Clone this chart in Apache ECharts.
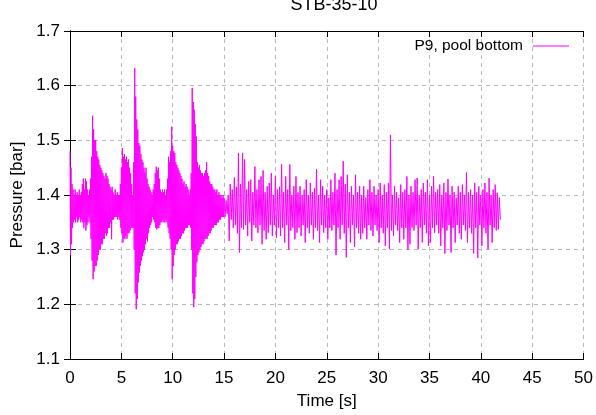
<!DOCTYPE html>
<html>
<head>
<meta charset="utf-8">
<script src="https://cdn.jsdelivr.net/npm/echarts@6/dist/echarts.min.js"></script>
<style>
html,body{margin:0;padding:0;background:#fff;}
#chart{width:596px;height:415px;}
</style>
</head>
<body>
<div id="chart"></div>
<script>
// ---- data ----
const chartTitle = 'STB-35-10';
const seriesName = 'P9, pool bottom';
const xTicks = [0, 5, 10, 15, 20, 25, 30, 35, 40, 45, 50];
const yTicks = [1.1, 1.2, 1.3, 1.4, 1.5, 1.6, 1.7];

// segment A: 0 s .. 15 s, one oscillation every 0.1 s (upper / lower swing, bar)
const startA = 0.0, stepA = 0.1;
const highA = [
1.48,1.45,1.42,1.41,1.40,1.41,1.40,1.405,1.40,1.41,
1.40,1.405,1.42,1.43,1.41,1.43,1.425,1.41,1.40,1.41,
1.43,1.47,1.545,1.52,1.50,1.50,1.48,1.47,1.465,1.455,
1.45,1.445,1.44,1.435,1.43,1.44,1.435,1.43,1.42,1.415,
1.41,1.415,1.405,1.40,1.41,1.40,1.405,1.40,1.40,1.42,
1.45,1.486,1.47,1.475,1.465,1.47,1.46,1.465,1.45,1.44,
1.42,1.40,1.46,1.632,1.58,1.538,1.52,1.495,1.49,1.475,
1.465,1.46,1.45,1.441,1.45,1.43,1.42,1.415,1.41,1.405,
1.40,1.41,1.42,1.44,1.452,1.445,1.45,1.43,1.41,1.405,
1.41,1.405,1.41,1.40,1.41,1.43,1.47,1.46,1.48,1.525,
1.49,1.48,1.477,1.46,1.455,1.45,1.445,1.44,1.435,1.43,
1.42,1.425,1.415,1.42,1.415,1.41,1.40,1.41,1.44,1.596,
1.57,1.556,1.53,1.507,1.46,1.45,1.455,1.445,1.44,1.44,
1.435,1.44,1.445,1.46,1.44,1.435,1.425,1.42,1.42,1.415,
1.41,1.41,1.405,1.41,1.40,1.405,1.40,1.40,1.395,1.40
];
const lowA = [
1.29,1.31,1.34,1.35,1.355,1.35,1.36,1.35,1.355,1.36,
1.35,1.355,1.35,1.34,1.35,1.335,1.345,1.35,1.36,1.35,
1.32,1.28,1.246,1.26,1.27,1.27,1.28,1.29,1.30,1.30,
1.31,1.31,1.32,1.32,1.33,1.325,1.33,1.34,1.34,1.35,
1.319,1.355,1.355,1.36,1.36,1.36,1.355,1.36,1.355,1.34,
1.33,1.313,1.32,1.32,1.325,1.32,1.33,1.33,1.335,1.34,
1.34,1.34,1.30,1.22,1.191,1.21,1.24,1.258,1.27,1.28,
1.288,1.295,1.30,1.31,1.32,1.315,1.33,1.34,1.345,1.35,
1.36,1.355,1.35,1.34,1.337,1.34,1.34,1.345,1.35,1.35,
1.355,1.35,1.35,1.355,1.35,1.34,1.33,1.32,1.30,1.246,
1.27,1.29,1.30,1.31,1.31,1.315,1.32,1.32,1.325,1.33,
1.33,1.335,1.34,1.34,1.34,1.345,1.345,1.34,1.30,1.22,
1.195,1.21,1.25,1.277,1.29,1.295,1.30,1.305,1.31,1.31,
1.315,1.32,1.32,1.32,1.325,1.33,1.33,1.335,1.34,1.34,
1.345,1.345,1.345,1.35,1.35,1.355,1.355,1.36,1.36,1.36
];

// segment B: 15 s .. 41.9 s, one oscillation every 0.2 s (upper / lower swing, bar)
const startB = 15.0, stepB = 0.2;
const highB = [
1.395,1.390,1.400,1.420,1.410,1.432,1.415,1.477,1.420,1.477,
1.465,1.410,1.425,1.428,1.405,1.452,1.410,1.428,1.434,1.445,
1.405,1.416,1.422,1.440,1.400,1.434,1.410,1.415,1.456,1.405,
1.434,1.410,1.456,1.400,1.416,1.434,1.405,1.416,1.400,1.410,
1.428,1.400,1.422,1.405,1.412,1.447,1.400,1.428,1.416,1.400,
1.410,1.395,1.428,1.405,1.440,1.410,1.428,1.434,1.462,1.420,
1.437,1.405,1.416,1.400,1.437,1.405,1.416,1.400,1.416,1.395,
1.410,1.428,1.405,1.416,1.400,1.410,1.422,1.400,1.419,1.405,
1.422,1.510,1.400,1.416,1.405,1.395,1.419,1.405,1.410,1.434,
1.400,1.416,1.405,1.428,1.431,1.400,1.410,1.422,1.405,1.428,
1.400,1.416,1.434,1.405,1.410,1.419,1.400,1.422,1.405,1.429,
1.400,1.416,1.405,1.395,1.416,1.405,1.419,1.400,1.441,1.405,
1.410,1.400,1.422,1.405,1.416,1.400,1.410,1.422,1.405,1.431,
1.400,1.410,1.419,1.404,1.395
];
const lowB = [
1.360,1.365,1.316,1.355,1.340,1.345,1.330,1.295,1.340,1.337,
1.345,1.325,1.350,1.316,1.345,1.340,1.331,1.345,1.310,1.335,
1.319,1.331,1.345,1.325,1.345,1.322,1.340,1.325,1.340,1.313,
1.345,1.300,1.335,1.340,1.319,1.331,1.340,1.325,1.345,1.313,
1.340,1.330,1.345,1.319,1.340,1.335,1.313,1.345,1.331,1.340,
1.319,1.340,1.335,1.345,1.290,1.340,1.319,1.345,1.330,1.286,
1.340,1.313,1.345,1.305,1.340,1.330,1.319,1.330,1.340,1.319,
1.345,1.335,1.325,1.345,1.335,1.313,1.340,1.330,1.307,1.340,
1.301,1.335,1.325,1.345,1.335,1.313,1.340,1.319,1.340,1.300,
1.310,1.340,1.335,1.345,1.301,1.340,1.313,1.345,1.330,1.307,
1.313,1.340,1.331,1.345,1.330,1.307,1.340,1.293,1.335,1.345,
1.295,1.340,1.313,1.345,1.330,1.319,1.345,1.335,1.313,1.340,
1.330,1.293,1.340,1.285,1.345,1.307,1.340,1.330,1.301,1.345,
1.313,1.340,1.335,1.337,1.355
];

// ---- build the (time, pressure) pairs for the library ----
const points = [];
function addSegment(start, step, hi, lo) {
  for (let i = 0; i < hi.length; i++) {
    const t = start + i * step;
    points.push([+t.toFixed(3), hi[i]]);
    points.push([+(t + step / 2).toFixed(3), lo[i]]);
  }
}
addSegment(startA, stepA, highA, lowA);
addSegment(startB, stepB, highB, lowB);

const FONT = 'Liberation Sans, Arial, sans-serif';
const FS = 17;
const gridLine = { show: true, lineStyle: { color: '#b8b8b8', type: [4, 4], width: 1 } };
const axisLine = { show: true, lineStyle: { color: '#000', width: 1 } };
const tick = { show: true, inside: true, length: 6, lineStyle: { color: '#000' } };

const chart = echarts.init(document.getElementById('chart'), null, { renderer: 'canvas' });
chart.setOption({
  animation: false,
  backgroundColor: '#fff',
  title: {
    text: chartTitle,
    left: 329, textAlign: 'center', top: -9,
    textStyle: { fontFamily: FONT, fontSize: 18, fontWeight: 'normal', color: '#000' }
  },
  legend: {
    data: [{ name: seriesName, icon: 'rect' }],
    right: 22, top: 33,
    align: 'right',
    itemWidth: 36, itemHeight: 1.2,
    textStyle: { fontFamily: FONT, fontSize: 15.5, color: '#000', padding: [0, 5, 0, 0] }
  },
  grid: { left: 70, top: 31, width: 519, height: 336, containLabel: false },
  xAxis: [{
    type: 'value', min: xTicks[0], max: xTicks[xTicks.length - 1], interval: xTicks[1] - xTicks[0],
    name: 'Time [s]', nameLocation: 'middle', nameGap: 34,
    nameTextStyle: { fontFamily: FONT, fontSize: FS, color: '#000' },
    axisLine: axisLine, axisTick: tick,
    axisLabel: { fontFamily: FONT, fontSize: FS, color: '#000', margin: 11 },
    splitLine: gridLine
  }, {
    type: 'value', position: 'top', min: xTicks[0], max: xTicks[xTicks.length - 1], interval: xTicks[1] - xTicks[0],
    axisLine: axisLine, axisTick: tick,
    axisLabel: { show: false }, splitLine: { show: false }
  }],
  yAxis: [{
    type: 'value', min: yTicks[0], max: yTicks[yTicks.length - 1], interval: 0.1,
    name: 'Pressure [bar]', nameLocation: 'middle', nameGap: 41, nameRotate: 90,
    nameTextStyle: { fontFamily: FONT, fontSize: FS, color: '#000' },
    axisLine: axisLine, axisTick: tick,
    axisLabel: { fontFamily: FONT, fontSize: FS, color: '#000', margin: 10,
      formatter: v => v.toFixed(1) },
    splitLine: gridLine
  }, {
    type: 'value', position: 'right', min: yTicks[0], max: yTicks[yTicks.length - 1], interval: 0.1,
    axisLine: axisLine, axisTick: tick,
    axisLabel: { show: false }, splitLine: { show: false }
  }],
  series: [{
    name: seriesName,
    type: 'line',
    data: points,
    xAxisIndex: 0, yAxisIndex: 0,
    symbol: 'none',
    sampling: null,
    lineStyle: { color: '#ff00ff', width: 1 },
    itemStyle: { color: '#ff00ff' }
  }]
});
</script>
</body>
</html>
